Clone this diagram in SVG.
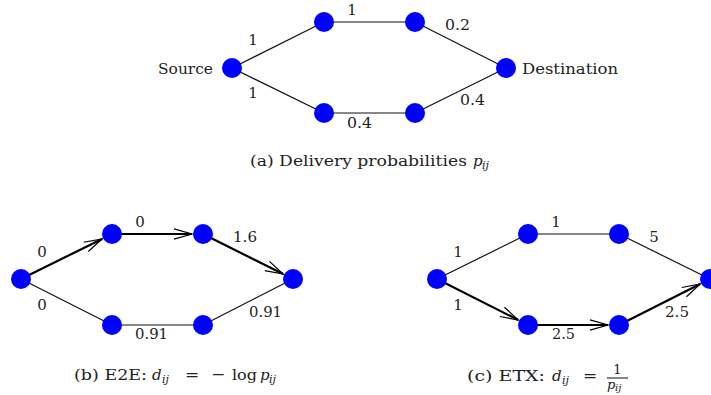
<svg xmlns="http://www.w3.org/2000/svg" width="711" height="395" viewBox="0 0 711 395">
<style>
text{font-family:"DejaVu Serif","Liberation Serif",serif;font-size:15px;fill:#222}
.c{text-anchor:middle}
.it{font-style:italic}
.sub{font-style:italic;font-size:11px}
.n{fill:#0000ff}
.thin{stroke:#111;stroke-width:1.2;fill:none}
.thick{stroke:#000;stroke-width:2.2;fill:none;marker-end:url(#ah)}
</style>
<defs>
<marker id="ah" markerUnits="userSpaceOnUse" markerWidth="20" markerHeight="12" viewBox="0 0 20 12" refX="18" refY="6" orient="auto" overflow="visible">
<path d="M0,0.8 L18,6 L0,11.2" fill="none" stroke="#000" stroke-width="1.2"/>
</marker>
</defs>
<g id="connectors">
<line class="thin" x1="232" y1="68" x2="324" y2="22"/>
<line class="thin" x1="324" y1="22" x2="415" y2="22"/>
<line class="thin" x1="415" y1="22" x2="506" y2="68"/>
<line class="thin" x1="232" y1="68" x2="324" y2="113"/>
<line class="thin" x1="324" y1="113" x2="415" y2="113"/>
<line class="thin" x1="415" y1="113" x2="506" y2="68"/>
<line class="thick" x1="21" y1="279" x2="102.1" y2="238.9"/>
<line class="thick" x1="112" y1="234" x2="192" y2="234"/>
<line class="thick" x1="203" y1="234" x2="283.2" y2="274.1"/>
<line class="thin" x1="21" y1="279" x2="112" y2="325"/>
<line class="thin" x1="112" y1="325" x2="203" y2="325"/>
<line class="thin" x1="203" y1="325" x2="293" y2="279"/>
<line class="thin" x1="437" y1="279" x2="528" y2="234"/>
<line class="thin" x1="528" y1="234" x2="619" y2="234"/>
<line class="thin" x1="619" y1="234" x2="710" y2="279"/>
<line class="thick" x1="437" y1="279" x2="518.2" y2="320"/>
<line class="thick" x1="528" y1="325" x2="608" y2="325"/>
<line class="thick" x1="619" y1="325" x2="700.2" y2="284"/>
</g>
<g id="a-source"><circle class="n" cx="232" cy="68" r="10"/><text x="158" y="74" textLength="55" lengthAdjust="spacingAndGlyphs">Source</text></g>
<g id="a-t1"><circle class="n" cx="324" cy="22" r="10"/></g>
<g id="a-t2"><circle class="n" cx="415" cy="22" r="10"/></g>
<g id="a-dest"><circle class="n" cx="506" cy="68" r="10"/><text x="522" y="74" textLength="96" lengthAdjust="spacingAndGlyphs">Destination</text></g>
<g id="a-b1"><circle class="n" cx="324" cy="113" r="10"/></g>
<g id="a-b2"><circle class="n" cx="415" cy="113" r="10"/></g>
<g id="a-labels">
<text class="c" x="253" y="45">1</text>
<text class="c" x="352" y="15">1</text>
<text x="445" y="30" textLength="25" lengthAdjust="spacingAndGlyphs">0.2</text>
<text class="c" x="253" y="98">1</text>
<text x="347" y="128" textLength="25" lengthAdjust="spacingAndGlyphs">0.4</text>
<text x="460" y="105" textLength="25" lengthAdjust="spacingAndGlyphs">0.4</text>
<text x="250" y="166" textLength="217" lengthAdjust="spacingAndGlyphs">(a) Delivery probabilities</text>
<text class="it" x="473" y="166">p</text>
<text class="sub" x="482" y="169">ij</text>
</g>
<g id="b-l"><circle class="n" cx="21" cy="279" r="10"/></g>
<g id="b-t1"><circle class="n" cx="112" cy="234" r="10"/></g>
<g id="b-t2"><circle class="n" cx="203" cy="234" r="10"/></g>
<g id="b-r"><circle class="n" cx="293" cy="279" r="10"/></g>
<g id="b-b1"><circle class="n" cx="112" cy="325" r="10"/></g>
<g id="b-b2"><circle class="n" cx="203" cy="325" r="10"/></g>
<g id="b-labels">
<text class="c" x="42" y="257">0</text>
<text class="c" x="140" y="227">0</text>
<text x="233" y="242" textLength="24" lengthAdjust="spacingAndGlyphs">1.6</text>
<text class="c" x="42" y="310">0</text>
<text x="135" y="339" textLength="33" lengthAdjust="spacingAndGlyphs">0.91</text>
<text x="249" y="317" textLength="33" lengthAdjust="spacingAndGlyphs">0.91</text>
<text x="74" y="380" textLength="73" lengthAdjust="spacingAndGlyphs">(b) E2E:</text>
<text class="it" x="152" y="380">d</text>
<text class="sub" x="162" y="383">ij</text>
<text class="c" x="192" y="380" style="font-size:17px">=</text>
<text class="c" x="218" y="380" style="font-size:17px">−</text>
<text x="232" y="380" textLength="25" lengthAdjust="spacingAndGlyphs">log</text>
<text class="it" x="260" y="380">p</text>
<text class="sub" x="269" y="383">ij</text>
</g>
<g id="c-l"><circle class="n" cx="437" cy="279" r="10"/></g>
<g id="c-t1"><circle class="n" cx="528" cy="234" r="10"/></g>
<g id="c-t2"><circle class="n" cx="619" cy="234" r="10"/></g>
<g id="c-r"><circle class="n" cx="710" cy="279" r="10"/></g>
<g id="c-b1"><circle class="n" cx="528" cy="325" r="10"/></g>
<g id="c-b2"><circle class="n" cx="619" cy="325" r="10"/></g>
<g id="c-labels">
<text class="c" x="458" y="257">1</text>
<text class="c" x="556" y="227">1</text>
<text class="c" x="654" y="242">5</text>
<text class="c" x="458" y="310">1</text>
<text x="552" y="339" textLength="23" lengthAdjust="spacingAndGlyphs">2.5</text>
<text x="665" y="317" textLength="24" lengthAdjust="spacingAndGlyphs">2.5</text>
<text x="467" y="381" textLength="78" lengthAdjust="spacingAndGlyphs">(c) ETX:</text>
<text class="it" x="552" y="381">d</text>
<text class="sub" x="562" y="384">ij</text>
<text class="c" x="590" y="381" style="font-size:17px">=</text>
<text class="c" x="617.5" y="374" style="font-size:13px">1</text>
<line x1="607" y1="378" x2="628" y2="378" stroke="#222" stroke-width="1.1"/>
<text class="it" x="607" y="389" style="font-size:13px">p</text>
<text class="sub" x="615" y="391" style="font-size:10px">ij</text>
</g>
</svg>
